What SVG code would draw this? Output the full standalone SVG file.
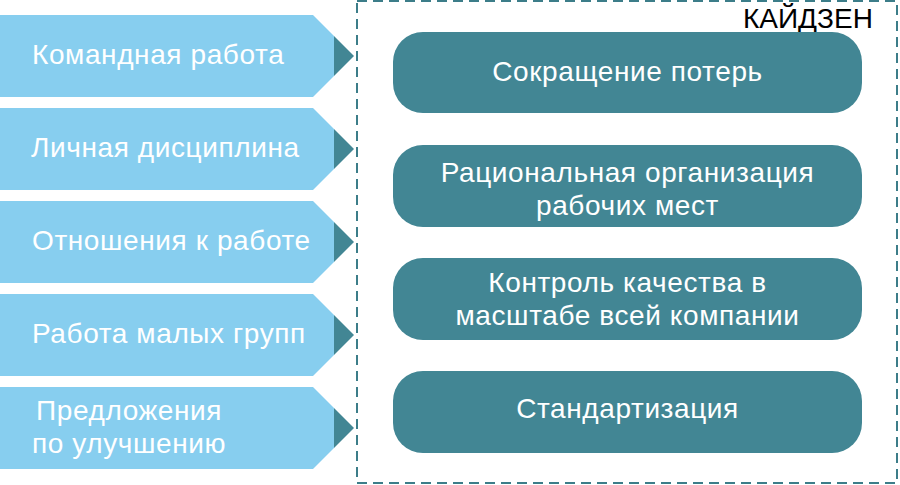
<svg xmlns="http://www.w3.org/2000/svg" width="900" height="485" viewBox="0 0 900 485">
<style>
.arr{fill:#87CEEF}
.tip{fill:#428694}
.box{fill:#428694}
.t{font-family:"Liberation Sans",Arial,sans-serif;font-size:28px;letter-spacing:0.6px;fill:#fff}
.c{text-anchor:middle}
.frame{fill:none;stroke:#3C7D89;stroke-width:2;stroke-dasharray:10 6}
.title{font-family:"Liberation Sans",Arial,sans-serif;font-size:28px;fill:#000}
</style>
<rect width="900" height="485" fill="#fff"/>
<g id="frame">
<rect class="frame" x="357" y="1" width="540" height="482"/>
<text class="title" x="743" y="28">КАЙДЗЕН</text>
</g>
<g id="connectors">
<polygon class="tip" points="334,36 354,56 334,76"/>
<polygon class="tip" points="334,129 354,149 334,169"/>
<polygon class="tip" points="334,222 354,242 334,262"/>
<polygon class="tip" points="334,315 354,335 334,355"/>
<polygon class="tip" points="334,408 354,428 334,448"/>
</g>
<g id="a1"><polygon class="arr" points="0,15 313,15 334,36 334,76 313,97 0,97"/><text class="t" x="32" y="64">Командная работа</text></g>
<g id="a2"><polygon class="arr" points="0,108 313,108 334,129 334,169 313,190 0,190"/><text class="t" x="31" y="157">Личная дисциплина</text></g>
<g id="a3"><polygon class="arr" points="0,201 313,201 334,222 334,262 313,283 0,283"/><text class="t" x="32" y="250">Отношения к работе</text></g>
<g id="a4"><polygon class="arr" points="0,294 313,294 334,315 334,355 313,376 0,376"/><text class="t" x="32" y="343">Работа малых групп</text></g>
<g id="a5"><polygon class="arr" points="0,387 313,387 334,408 334,448 313,469 0,469"/><text class="t" x="36" y="420">Предложения</text><text class="t" x="32" y="453">по улучшению</text></g>
<g id="b1"><rect class="box" x="393" y="32" width="469" height="81" rx="30"/><text class="t c" x="627.5" y="81">Сокращение потерь</text></g>
<g id="b2"><rect class="box" x="393" y="145" width="469" height="82" rx="30"/><text class="t c" x="627.5" y="182">Рациональная организация</text><text class="t c" x="627.5" y="215">рабочих мест</text></g>
<g id="b3"><rect class="box" x="393" y="258" width="469" height="82" rx="30"/><text class="t c" x="627.5" y="292">Контроль качества в</text><text class="t c" x="627.5" y="325">масштабе всей компании</text></g>
<g id="b4"><rect class="box" x="393" y="371" width="469" height="82" rx="30"/><text class="t c" x="627.5" y="418">Стандартизация</text></g>
</svg>
